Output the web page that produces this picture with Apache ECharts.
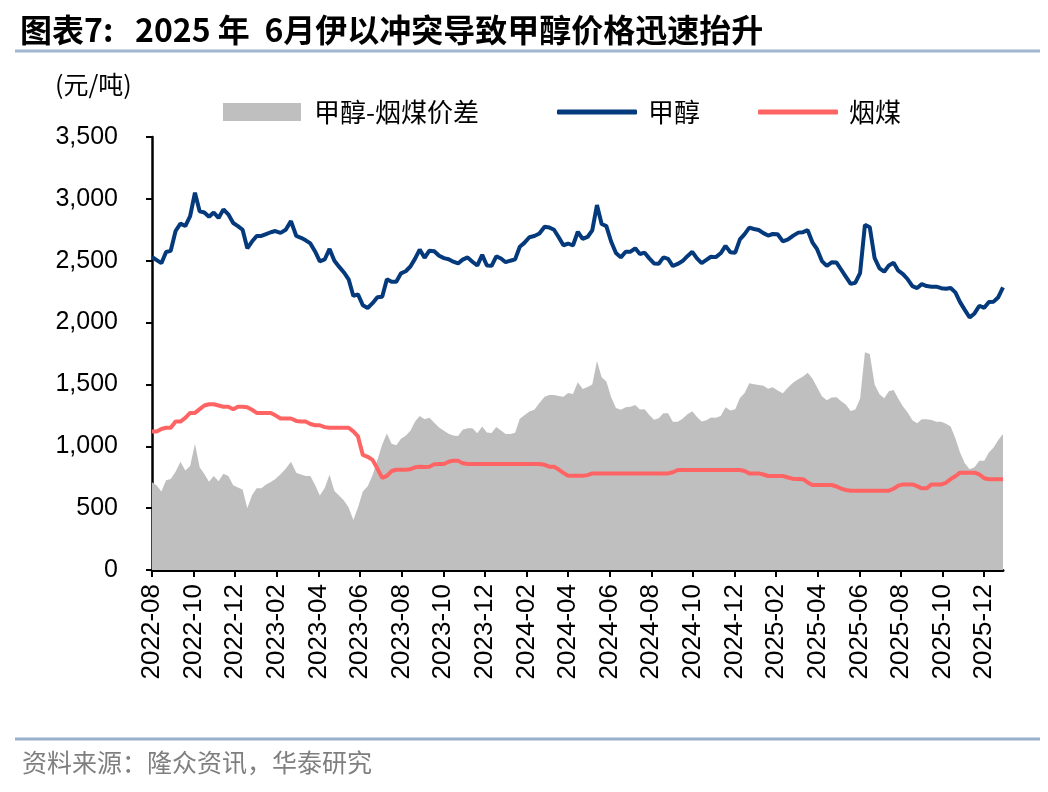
<!DOCTYPE html>
<html><head><meta charset="utf-8">
<script src="https://cdn.jsdelivr.net/npm/echarts@6/dist/echarts.min.js"></script>
<style>html,body{margin:0;padding:0;background:#fff}#c{width:1048px;height:792px}</style>
</head><body><div id="c"></div>
<script>
// Weekly observations, first week 2022-08-05
const startDate = '2022-08-05';
const methanol = [2530,2505,2480,2570,2580,2740,2800,2780,2860,3050,2900,2890,2855,2890,2845,2915,2875,2805,2780,2750,
2600,2655,2700,2700,2715,2730,2740,2725,2750,2820,2700,2685,2665,2640,2575,2495,2510,2595,2500,2450,
2405,2350,2215,2228,2140,2118,2157,2205,2209,2350,2330,2330,2398,2415,2453,2517,2590,2524,2581,2577,
2540,2521,2512,2492,2478,2509,2527,2492,2461,2547,2461,2459,2536,2518,2488,2500,2511,2613,2644,2690,
2700,2720,2775,2769,2750,2690,2625,2639,2623,2734,2676,2692,2745,2950,2797,2780,2655,2563,2527,2573,
2573,2600,2554,2565,2519,2478,2476,2527,2514,2457,2474,2497,2537,2572,2519,2480,2506,2532,2529,2560,
2620,2569,2565,2672,2715,2767,2756,2748,2723,2703,2716,2714,2656,2672,2703,2727,2731,2747,2649,2593,
2497,2458,2487,2485,2427,2369,2313,2322,2400,2790,2770,2520,2438,2411,2462,2484,2419,2392,2350,2295,
2279,2311,2295,2290,2290,2278,2273,2280,2244,2165,2103,2041,2074,2136,2119,2166,2169,2205,2285];
const coal = [1120,1120,1140,1150,1150,1200,1200,1230,1270,1270,1300,1330,1340,1340,1330,1320,1320,1300,1320,1320,
1315,1295,1270,1270,1270,1270,1250,1225,1225,1225,1205,1200,1200,1180,1170,1170,1155,1150,1150,1150,
1150,1150,1120,1080,930,915,890,820,745,760,800,810,810,810,815,830,835,832,835,855,
857,857,875,884,884,862,857,857,857,857,857,857,857,857,857,857,857,857,857,857,
857,857,850,835,835,812,785,762,762,762,762,767,781,781,781,781,781,781,781,781,
781,781,781,781,781,781,781,781,781,790,808,808,808,808,808,808,808,808,808,808,
808,808,808,808,800,781,781,781,772,760,760,760,760,748,736,736,734,708,687,687,
687,687,687,675,658,647,641,641,641,641,641,641,641,641,641,657,682,692,692,692,
678,660,660,692,692,692,705,735,758,787,787,787,787,772,742,733,733,733,733];
const spread = [710,683,635,725,736,795,875,805,840,1020,830,775,713,760,718,778,760,685,667,650,
500,605,660,660,692,711,736,774,818,875,787,771,760,760,687,603,662,770,639,600,
562,505,405,505,635,676,765,890,1015,1104,1020,1009,1061,1085,1125,1200,1245,1218,1230,1190,
1152,1126,1101,1088,1084,1134,1145,1145,1105,1160,1112,1107,1155,1127,1099,1099,1110,1222,1251,1282,
1295,1350,1400,1415,1415,1406,1400,1431,1423,1518,1464,1480,1500,1690,1558,1524,1398,1309,1295,1316,
1319,1334,1298,1300,1253,1214,1227,1267,1267,1199,1199,1223,1258,1283,1237,1200,1210,1232,1231,1245,
1315,1290,1300,1390,1430,1509,1501,1496,1490,1466,1478,1451,1428,1476,1516,1541,1565,1595,1548,1477,
1405,1373,1395,1396,1364,1336,1285,1297,1385,1760,1745,1500,1420,1388,1445,1455,1385,1322,1274,1210,
1187,1218,1218,1212,1199,1199,1183,1160,1065,950,863,815,830,884,884,950,990,1050,1100];
const xTickLabels = ['2022-08','2022-10','2022-12','2023-02','2023-04','2023-06','2023-08','2023-10','2023-12',
'2024-02','2024-04','2024-06','2024-08','2024-10','2024-12','2025-02','2025-04','2025-06','2025-08','2025-10','2025-12'];

// dates -> months elapsed since first week
function dim(y,m){return new Date(Date.UTC(y,m,0)).getUTCDate();}
function monthsSinceStart(d){
  const s = new Date(startDate+'T00:00:00Z');
  return (d.getUTCFullYear()-s.getUTCFullYear())*12 + (d.getUTCMonth()-s.getUTCMonth())
    + (d.getUTCDate()-s.getUTCDate())/dim(d.getUTCFullYear(), d.getUTCMonth()+1);
}
const dates = [];
{
  const s = new Date(startDate+'T00:00:00Z');
  for (let i=0;i<methanol.length;i++) dates.push(new Date(s.getTime()+i*7*86400000));
}
const xs = dates.map(monthsSinceStart);
const tickVals = xTickLabels.map((_,i)=>i*2);
const pair = arr => arr.map((v,i)=>[xs[i], v]);

const chart = echarts.init(document.getElementById('c'));
const font = 'Liberation Sans';
const cjk = 'Noto Sans CJK SC';
chart.setOption({
  animation:false,
  backgroundColor:'#fff',
  grid:{left:152, right:45, top:137, bottom:222, containLabel:false},
  legend:[
    {data:['甲醇-烟煤价差'], left:218, top:94, icon:'rect', itemWidth:78, itemHeight:18,
     textStyle:{fontSize:26, fontFamily:cjk, color:'#000', padding:[0,0,0,8]}},
    {data:['甲醇','烟煤'], left:552, top:94, icon:'roundRect', itemWidth:80, itemHeight:5, itemGap:58,
     textStyle:{fontSize:26, fontFamily:cjk, color:'#000', padding:[0,0,0,6]}}
  ],
  xAxis:{type:'value', min:0, max:xs[xs.length-1],
    axisLine:{show:true, lineStyle:{color:'#000', width:3}},
    axisTick:{show:true, customValues:tickVals, length:7, lineStyle:{color:'#000', width:2}},
    axisLabel:{customValues:tickVals, rotate:90, margin:14, fontSize:26, fontFamily:font, color:'#000',
      formatter:v=>xTickLabels[Math.round(v/2)]},
    splitLine:{show:false}},
  yAxis:{type:'value', min:0, max:3500, interval:500,
    axisLine:{show:true, lineStyle:{color:'#000', width:2.5}},
    axisTick:{show:true, length:6, lineStyle:{color:'#000', width:2}},
    axisLabel:{margin:34, fontSize:25, fontFamily:font, color:'#000',
      formatter:v=>v.toLocaleString('en-US')},
    splitLine:{show:false}},
  series:[
    {name:'甲醇-烟煤价差', type:'line', data:pair(spread), symbol:'none', z:1,
     lineStyle:{width:0}, itemStyle:{color:'#bfbfbf'}, areaStyle:{color:'#bfbfbf', opacity:1}},
    {name:'甲醇', type:'line', data:pair(methanol), symbol:'none', z:3,
     lineStyle:{color:'#043a7b', width:4}, itemStyle:{color:'#043a7b'}},
    {name:'烟煤', type:'line', data:pair(coal), symbol:'none', z:4,
     lineStyle:{color:'#fe6464', width:4}, itemStyle:{color:'#fe6464'}}
  ],
  graphic:[
    {type:'text', left:20, top:14, style:{text:'图表7:   2025 年  6月伊以冲突导致甲醇价格迅速抬升',
      fontSize:32, fontWeight:'bold', fontFamily:cjk, fill:'#000'}},
    {type:'line', shape:{x1:15, y1:51, x2:1040, y2:51}, style:{stroke:'#a0b6d0', lineWidth:3}},
    {type:'text', left:55, top:72, style:{text:'(元/吨)', fontSize:25, fontFamily:cjk, fill:'#000'}},
    {type:'line', shape:{x1:15, y1:739, x2:1040, y2:739}, style:{stroke:'#98b0cb', lineWidth:3}},
    {type:'text', left:22, top:750, style:{text:'资料来源：隆众资讯，华泰研究', fontSize:25, fontFamily:cjk, fill:'#7f7f7f'}}
  ]
});
</script></body></html>
